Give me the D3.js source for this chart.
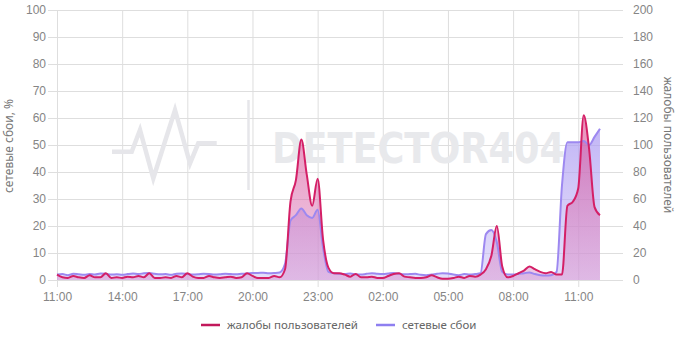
<!DOCTYPE html>
<html>

<head>
    <meta charset="utf-8">
    <style>
        body {
            margin: 0;
            background: #fff;
            font-family: 'Noto Sans', sans-serif;
        }

        .grid line {
            stroke: #dedede;
        }

        .grid .domain {
            display: none;
        }

        .tick text {
            font-size: 12px;
            fill: #858585;
        }

        .axis-title {
            font-size: 12px;
            fill: #777;
        }

        .legend text {
            font-size: 11.5px;
            fill: #666;
        }
    </style>
</head>

<body>
    <svg width="679" height="341"></svg>
</body>

<script src="https://d3js.org/d3.v7.min.js"></script>

<script>
    // one point every 15 minutes, starting 11:00
    let startTime = new Date(2024, 4, 14, 11, 0)
    let stepMinutes = 15

    // жалобы пользователей (right axis, 0-200)
    let complaints = [
        4, 2, 1.5, 3, 2, 1.5, 3.5, 2, 2, 5,
        1.5, 2, 1.5, 2.5, 2, 3, 2, 5, 1.5, 1.5,
        2, 1.5, 3, 2, 5, 2.5, 1.5, 1.5, 3, 2,
        1.5, 2, 2.5, 1.5, 2, 5, 3, 1.5, 1.5, 1.5,
        3, 2, 8, 58, 74, 104, 78, 55, 75, 30,
        9, 5, 5, 4, 2.5, 4.5, 2, 2, 2.5, 1.5,
        1.5, 3, 4.5, 5, 2.5, 2, 1.5, 1.5, 2, 3.5,
        2, 1, 1, 1.5, 2.5, 1.5, 3, 2.5, 4, 8,
        18, 40, 10, 2, 3, 5, 7, 10, 8, 6,
        5, 6, 4, 4, 55, 58, 68, 122, 97, 54,
        48
    ]

    // сетевые сбои, % (left axis, 0-100)
    let outages = [
        2, 2.2, 1.8, 2.3, 2.1, 1.9, 2.2, 2, 2.4, 2.3,
        2, 2.1, 1.9, 2.2, 2.4, 2.2, 2.5, 2.6, 2.3, 2.1,
        2.2, 1.9, 2.3, 2.4, 2.2, 2, 2.1, 2.3, 2.2, 2,
        2.1, 2.3, 2.2, 2.1, 2.3, 2.4, 2.6, 2.6, 2.7, 2.5,
        2.6, 2.8, 6, 22, 24, 26.5, 24, 23, 26, 12,
        3, 2.5, 2.3, 2.2, 2.4, 2.1, 2, 2.3, 2.5, 2.3,
        2.2, 2.4, 2.6, 2.3, 2.1, 2.2, 2.3, 1.9, 1.8, 2,
        2.3, 2.5, 2.4, 2, 1.8, 2.2, 2, 2.2, 2.5, 17,
        18.5, 14, 3, 2, 2, 2.3, 2.5, 2.8, 2.2, 1.8,
        1.7, 1.8, 3, 35, 51, 51, 51, 51.5, 50, 53,
        56
    ]

    let xTickLabels = ["11:00", "14:00", "17:00", "20:00", "23:00", "02:00", "05:00", "08:00", "11:00"]
    let leftTicks = [0, 10, 20, 30, 40, 50, 60, 70, 80, 90, 100]
    let rightTicks = [0, 20, 40, 60, 80, 100, 120, 140, 160, 180, 200]

    let svg = d3.select("svg")

    let margin = { top: 10, right: 56, bottom: 61, left: 57 }
    let width = 679
    let height = 341

    let hour = 3600 * 1000
    let times = complaints.map((d, i) => new Date(+startTime + i * stepMinutes * 60 * 1000))
    let data = times.map((t, i) => ({ t: t, c: complaints[i], o: outages[i] }))

    let x = d3.scaleTime()
        .domain([startTime, new Date(+startTime + 26.06 * hour)])
        .range([margin.left, width - margin.right])

    let yLeft = d3.scaleLinear()
        .domain([0, 100])
        .range([height - margin.bottom, margin.top])

    let yRight = d3.scaleLinear()
        .domain([0, 200])
        .range([height - margin.bottom, margin.top])

    let xTicks = xTickLabels.map((d, i) => new Date(+startTime + i * 3 * hour))

    // gradients
    let defs = svg.append("defs")

    let pinkGrad = defs.append("linearGradient")
        .attr("id", "pinkGrad")
        .attr("gradientUnits", "userSpaceOnUse")
        .attr("x1", 0).attr("x2", 0)
        .attr("y1", margin.top).attr("y2", height - margin.bottom)
    pinkGrad.append("stop").attr("offset", "0%").attr("stop-color", "#dc1f64").attr("stop-opacity", 0.95)
    pinkGrad.append("stop").attr("offset", "100%").attr("stop-color", "#d98bcb").attr("stop-opacity", 0.6)

    let purpleGrad = defs.append("linearGradient")
        .attr("id", "purpleGrad")
        .attr("gradientUnits", "userSpaceOnUse")
        .attr("x1", 0).attr("x2", 0)
        .attr("y1", margin.top).attr("y2", height - margin.bottom)
    purpleGrad.append("stop").attr("offset", "0%").attr("stop-color", "#8f78f0").attr("stop-opacity", 0.85)
    purpleGrad.append("stop").attr("offset", "100%").attr("stop-color", "#c8bdf5").attr("stop-opacity", 0.5)

    // grid + axes
    svg.append("g")
        .attr("class", "grid")
        .attr("transform", `translate(${margin.left - 9},0)`)
        .call(d3.axisLeft(yLeft)
            .tickValues(leftTicks)
            .tickSize(-(width - margin.right - margin.left + 9))
            .tickPadding(2))

    svg.append("g")
        .attr("class", "grid")
        .attr("transform", `translate(0,${height - margin.bottom + 7})`)
        .call(d3.axisBottom(x)
            .tickValues(xTicks)
            .tickSize(-(height - margin.bottom + 7 - margin.top))
            .tickPadding(5)
            .tickFormat((d, i) => xTickLabels[i]))

    svg.append("g")
        .attr("class", "grid")
        .attr("transform", `translate(${width - margin.right},0)`)
        .call(d3.axisRight(yRight)
            .tickValues(rightTicks)
            .tickSize(0)
            .tickPadding(10))

    // watermark
    let mark = svg.append("g").attr("class", "watermark")
    mark.append("polyline")
        .attr("points", "112,151.7 131.7,151.7 140,130 153.3,178.3 175,110 190,163.3 198.3,143.3 216.7,143.3")
        .attr("fill", "none")
        .attr("stroke", "#e6e6ea")
        .attr("stroke-width", 4.5)
        .attr("stroke-linejoin", "miter")
    mark.append("line")
        .attr("x1", 248.5).attr("x2", 248.5)
        .attr("y1", 100).attr("y2", 190)
        .attr("stroke", "#e6e6ea")
        .attr("stroke-width", 2.5)
    mark.append("text")
        .attr("x", 272)
        .attr("y", 163)
        .attr("textLength", 293)
        .attr("lengthAdjust", "spacingAndGlyphs")
        .style("font-family", "'DejaVu Sans', sans-serif")
        .style("font-weight", "bold")
        .style("font-size", "42px")
        .style("fill", "#e8e9ec")
        .text("DETECTOR404")

    // areas
    let outArea = d3.area()
        .curve(d3.curveMonotoneX)
        .x(d => x(d.t))
        .y0(yLeft(0))
        .y1(d => yLeft(d.o))

    let compArea = d3.area()
        .curve(d3.curveMonotoneX)
        .x(d => x(d.t))
        .y0(yRight(0))
        .y1(d => yRight(d.c))

    svg.append("path")
        .datum(data)
        .attr("fill", "url(#purpleGrad)")
        .attr("d", outArea)

    svg.append("path")
        .datum(data)
        .attr("fill", "url(#pinkGrad)")
        .style("fill-opacity", 0.75)
        .attr("d", compArea)

    svg.append("path")
        .datum(data)
        .attr("fill", "none")
        .attr("stroke", "#9d88f0")
        .attr("stroke-width", 2)
        .attr("d", outArea.lineY1())

    svg.append("path")
        .datum(data)
        .attr("fill", "none")
        .attr("stroke", "#d41f66")
        .attr("stroke-width", 2)
        .attr("d", compArea.lineY1())

    // axis titles
    svg.append("text")
        .attr("class", "axis-title")
        .attr("transform", `translate(13,${(margin.top + height - margin.bottom) / 2 + 1}) rotate(-90)`)
        .attr("text-anchor", "middle")
        .text("сетевые сбои, %")

    svg.append("text")
        .attr("class", "axis-title")
        .attr("transform", `translate(664,${(margin.top + height - margin.bottom) / 2}) rotate(90)`)
        .attr("text-anchor", "middle")
        .text("жалобы пользователей")

    // legend
    let legend = svg.append("g").attr("class", "legend")
    let legendItems = [
        { name: "жалобы пользователей", color: "#c2185b", x: 201 },
        { name: "сетевые сбои", color: "#8e7ff0", x: 376 }
    ]
    legendItems.forEach(item => {
        legend.append("line")
            .attr("x1", item.x).attr("x2", item.x + 19)
            .attr("y1", 325).attr("y2", 325)
            .attr("stroke", item.color)
            .attr("stroke-width", 2.5)
        legend.append("text")
            .attr("x", item.x + 26)
            .attr("y", 329)
            .text(item.name)
    })
</script>

</html>
